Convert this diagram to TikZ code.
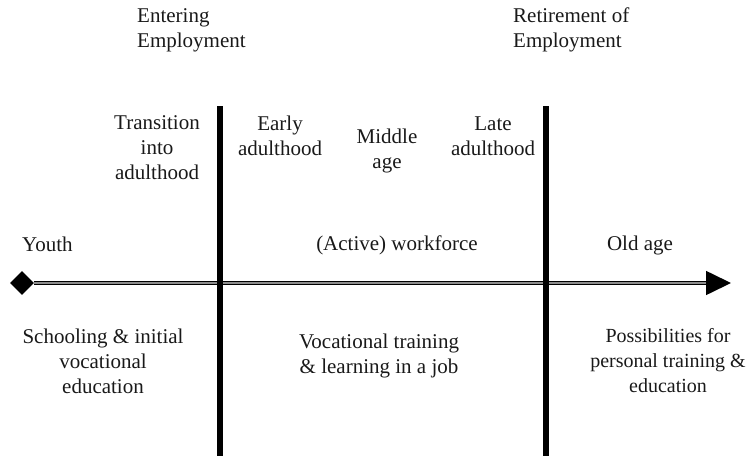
\documentclass[tikz,border=0pt]{standalone}
\usepackage{fontspec}
\setmainfont{Liberation Serif}
\usetikzlibrary{arrows.meta}
\usetikzlibrary{shapes.geometric}

\tikzset{
  label/.style={inner sep=0pt,align=center,text=black!90,
    font=\fontsize{21}{25}\selectfont},
  bar/.style={line width=6pt},
  axis/.style={line width=1.6pt,double=black!45,double distance=1.7pt,
    -{Triangle[length=25pt,width=24pt]}}
}

\begin{document}
\begin{tikzpicture}[x=1pt,y=-1pt]
    \useasboundingbox (0,0) rectangle (746,463);
    % time axis
    \node[diamond,fill=black,inner sep=0pt,minimum width=24pt,minimum height=24pt] (start) at (22,283) {};
    \coordinate (finish) at (731,283);
    \draw[axis] (start.east) -- (finish);
    % transitions
    \coordinate (enterTop) at (220,106);
    \coordinate (enterBot) at (220,456);
    \coordinate (retireTop) at (546,106);
    \coordinate (retireBot) at (546,456);
    \draw[bar] (enterTop) -- (enterBot);
    \draw[bar] (retireTop) -- (retireBot);
    % headings
    \node[label,align=left,anchor=west] (enter) at (137,30) {Entering\\Employment};
    \node[label,align=left,anchor=west] (retire) at (513,30) {Retirement of\\Employment};
    % life stages
    \node[label] (transition) at (157,148) {Transition\\into\\adulthood};
    \node[label] (early) at (280,136) {Early\\adulthood};
    \node[label] (middle) at (387,151) {Middle\\age};
    \node[label] (late) at (493,136) {Late\\adulthood};
    \node[label,anchor=west] (youth) at (22,244) {Youth};
    \node[label] (workforce) at (397,245) {(Active) workforce};
    \node[label] (old) at (640,245) {Old age};
    % learning
    \node[label] (school) at (103,361) {Schooling \& initial\\vocational\\education};
    \node[label] (vocational) at (379,356) {Vocational training\\\& learning in a job};
    \node[label,font=\fontsize{20}{25}\selectfont] (personal) at (668,361) {Possibilities for\\personal training \&\\education};
\end{tikzpicture}
\end{document}
